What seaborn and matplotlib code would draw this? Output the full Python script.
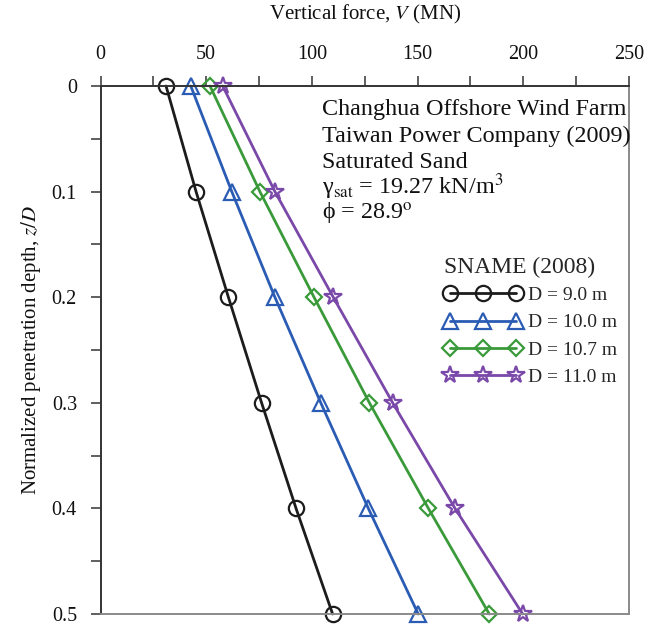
import matplotlib
matplotlib.use("Agg")
import matplotlib.pyplot as plt
import numpy as np
import pandas as pd
import seaborn as sns
from matplotlib.lines import Line2D
from matplotlib.ticker import MultipleLocator

# ---------------- data ----------------
depth = [0.0, 0.1, 0.2, 0.3, 0.4, 0.5]
v_d90 = [31.0, 45.2, 60.5, 76.2, 92.5, 109.8]
v_d100 = [42.7, 62.1, 82.5, 104.2, 126.7, 150.3]
v_d107 = [51.8, 75.4, 101.0, 127.2, 155.1, 183.9]
v_d110 = [57.8, 82.5, 110.1, 138.2, 167.7, 199.7]
labels = ["D = 9.0 m", "D = 10.0 m", "D = 10.7 m", "D = 11.0 m"]
x_ticks = [0, 50, 100, 150, 200, 250]
x_ticklabels = ["0", "50", "100", "150", "200", "250"]
y_ticks = [0.0, 0.1, 0.2, 0.3, 0.4, 0.5]
y_ticklabels = ["0", "0.1", "0.2", "0.3", "0.4", "0.5"]
annot_lines = [
    "Changhua Offshore Wind Farm",
    "Taiwan Power Company (2009)",
    "Saturated Sand",
    "γ$_{\\mathrm{sat}}$ = 19.27 kN/m$^{3}$",
    "\u03d5 = 28.9$^{\\mathrm{o}}$",
]
legend_title = "SNAME (2008)"

# ---------------- style ----------------
sns.set_theme(style="white")
plt.rcParams["font.family"] = ["Liberation Serif", "DejaVu Serif"]
plt.rcParams["mathtext.fontset"] = "stix"

W, H = 662, 625
fig = plt.figure(figsize=(W / 100, H / 100), dpi=100)
L, R, T, B = 100.5, 629, 86, 614
ax = fig.add_axes([L / W, 1 - B / H, (R - L) / W, (B - T) / H])


def ax_frac(px, py):
    return ((px - L) / (R - L), (B - py) / (B - T))


series = [v_d90, v_d100, v_d107, v_d110]
colors = ["#1c1c1c", "#2b5cb4", "#3a9a3a", "#7a48a8"]
markers = ["o", "^", "D", "*"]
msizes = [11, 11, 8, 13]

frames = []
for lab, vals in zip(labels, series):
    frames.append(pd.DataFrame({"V": vals, "z": depth, "case": lab}))
df = pd.concat(frames, ignore_index=True)

handles = []
for lab, c, m, ms in zip(labels, colors, markers, msizes):
    sub = df[df["case"] == lab]
    sns.lineplot(data=sub, x="V", y="z", sort=False, estimator=None, ax=ax,
                 color=c, marker=m, markersize=ms, markerfacecolor="none",
                 markeredgecolor=c, markeredgewidth=1.6, linewidth=2.0,
                 legend=False, clip_on=False)
    handles.append(Line2D([], [], color=c, marker=m, markersize=ms,
                          markerfacecolor="none", markeredgecolor=c,
                          markeredgewidth=1.6, linewidth=2.0))

ax.set_xlim(0, 250)
ax.set_ylim(0.5, 0)
ax.xaxis.tick_top()
ax.xaxis.set_label_position("top")
ax.set_xticks(x_ticks)
ax.set_xticklabels(x_ticklabels)
ax.set_yticks(y_ticks)
ax.set_yticklabels(y_ticklabels)
ax.xaxis.set_minor_locator(MultipleLocator(25))
ax.yaxis.set_minor_locator(MultipleLocator(0.05))
ax.tick_params(axis="both", which="both", direction="out", length=7,
               width=1.2, color="#444444", labelsize=14.5, labelcolor="#111111")
ax.tick_params(axis="x", which="both", top=True, bottom=False, pad=9)
ax.tick_params(axis="y", which="both", left=True, right=False, pad=10)

ax.set_xlabel(r"Vertical force, $V$ (MN)", fontsize=15, labelpad=18, color="#111111")
ax.set_ylabel(r"Normalized penetration depth, $z/D$", fontsize=15, labelpad=6, color="#111111")

for side in ["top", "left"]:
    ax.spines[side].set_color("#333333")
    ax.spines[side].set_linewidth(1.4)
for side in ["right", "bottom"]:
    ax.spines[side].set_color("#8a8a8a")
    ax.spines[side].set_linewidth(1.4)

baselines = [115, 142, 168, 194, 220]
for txt, by in zip(annot_lines, baselines):
    fx, fy = ax_frac(322, by)
    ax.text(fx, fy, txt, transform=ax.transAxes, fontsize=17.4, ha="left",
            va="baseline", color="#111111")

lx, ly = ax_frac(444, 257)
leg = ax.legend(handles, labels, title=legend_title, numpoints=3,
                handlelength=4.0, frameon=False, loc="upper left",
                bbox_to_anchor=(lx, ly), fontsize=14, title_fontsize=17,
                handletextpad=0.3, labelspacing=0.5, borderpad=0,
                borderaxespad=0)
leg._legend_box.align = "left"
leg._legend_box.sep = 6

fig.savefig("out.png", dpi=100)
